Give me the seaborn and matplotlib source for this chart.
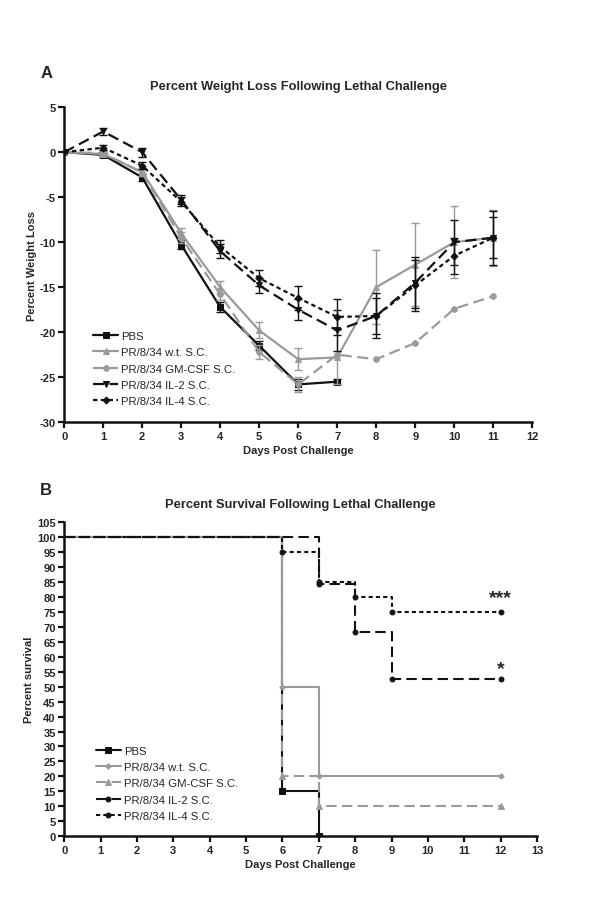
import numpy as np
import pandas as pd
import matplotlib
matplotlib.use("Agg")
import matplotlib.pyplot as plt
import seaborn as sns

# ---- Panel A: percent weight loss (mean, error) ----
days_a = list(range(0, 12))
days_pbs = list(range(0, 8))

pbs_wt = [0, -0.3, -2.8, -10.3, -17.2, -21.5, -25.8, -25.5]
pbs_err = [0, 0.2, 0.4, 0.5, 0.6, 0.5, 0.6, 0.3]

wt_wt = [0, -0.2, -2.2, -9.0, -15.0, -19.8, -23.0, -22.8, -15.0, -12.5, -10.0, -9.5]
wt_err = [0, 0.2, 0.4, 0.6, 0.7, 0.9, 1.2, 3.0, 4.1, 4.6, 4.0, 3.1]

gm_wt = [0, -0.1, -2.3, -9.5, -15.8, -22.2, -25.8, -22.5, -23.0, -21.2, -17.4, -16.0]
gm_err = [0, 0.2, 0.4, 0.6, 0.6, 0.8, 0.8, 0, 0, 0, 0, 0]

il2_wt = [0, 2.3, 0.0, -5.3, -11.0, -14.8, -17.5, -19.8, -18.2, -14.5, -10.0, -9.5]
il2_err = [0, 0.4, 0.5, 0.5, 0.8, 0.8, 1.2, 2.3, 2.0, 2.8, 2.5, 3.0]

il4_wt = [0, 0.5, -1.5, -5.5, -10.5, -14.0, -16.2, -18.3, -18.2, -14.8, -11.5, -9.5]
il4_err = [0, 0.3, 0.4, 0.5, 0.7, 0.9, 1.3, 2.0, 2.5, 2.8, 2.0, 2.3]

# ---- Panel B: percent survival (step points) ----
pbs_t = [0, 6, 7]
pbs_s = [100, 15, 0]
wt_t = [0, 6, 7, 12]
wt_s = [100, 50, 20, 20]
gm_t = [0, 6, 7, 12]
gm_s = [100, 20, 10, 10]
il2_t = [0, 7, 8, 9, 12]
il2_s = [100, 84.2, 68.4, 52.6, 52.6]
il4_t = [0, 6, 7, 8, 9, 12]
il4_s = [100, 95, 85, 80, 75, 75]

labels = ["PBS", "PR/8/34 w.t. S.C.", "PR/8/34 GM-CSF S.C.",
          "PR/8/34 IL-2 S.C.", "PR/8/34 IL-4 S.C."]

sns.set_style("ticks")
plt.rcParams['font.family'] = ['Liberation Sans', 'DejaVu Sans']
plt.rcParams['axes.unicode_minus'] = False

BLACK = "#111111"
GRAY = "#9a9a9a"
DASH = (0, (5, 2.5))
DOT = (0, (2, 1.5))

fig = plt.figure(figsize=(6, 9.2), dpi=100)
ax_a = fig.add_axes([0.107, 0.540, 0.78, 0.3424])
ax_b = fig.add_axes([0.107, 0.090, 0.788, 0.3413])

legend_kw = dict(loc="lower left", frameon=False, fontsize=8.2,
                 handlelength=2.2, labelspacing=0.55, borderpad=0.2,
                 handletextpad=0.25)

# panel A series
series_a = [
    (days_pbs, pbs_wt, pbs_err, BLACK, "-", "s", 4),
    (days_a, wt_wt, wt_err, GRAY, "-", "^", 4.5),
    (days_a, gm_wt, gm_err, GRAY, DASH, "o", 4),
    (days_a, il2_wt, il2_err, BLACK, DASH, "v", 4.5),
    (days_a, il4_wt, il4_err, BLACK, DOT, "D", 3.5),
]
for (x, y, e, c, ls, mk, ms), lab in zip(series_a, labels):
    df = pd.DataFrame({"day": x, "val": y, "err": e})
    sns.lineplot(data=df, x="day", y="val", ax=ax_a, color=c, linestyle=ls,
                 marker=mk, markersize=ms, markeredgecolor=c, linewidth=1.6,
                 label=lab, sort=False)
    m = df["err"] > 0
    ax_a.errorbar(df["day"][m], df["val"][m], yerr=df["err"][m], fmt="none",
                  ecolor=c, elinewidth=1.0, capsize=3, capthick=1.0)

ax_a.set_xlim(0, 12)
ax_a.set_ylim(-30, 5)
ax_a.set_xticks(range(0, 13))
ax_a.set_yticks(range(-30, 6, 5))
ax_a.set_xlabel("Days Post Challenge", fontsize=8, fontweight="bold", labelpad=3)
ax_a.set_ylabel("Percent Weight Loss", fontsize=8, fontweight="bold", labelpad=2)
ax_a.set_title("Percent Weight Loss Following Lethal Challenge",
               fontsize=9.3, fontweight="bold", pad=13)
ax_a.legend(bbox_to_anchor=(0.045, 0.026), **legend_kw)

# panel B series
series_b = [
    (pbs_t, pbs_s, BLACK, "-", "s", 4),
    (wt_t, wt_s, GRAY, "-", "P", 3.5),
    (gm_t, gm_s, GRAY, DASH, "^", 4.5),
    (il2_t, il2_s, BLACK, DASH, "o", 3.5),
    (il4_t, il4_s, BLACK, DOT, "o", 3.5),
]
for (x, y, c, ls, mk, ms), lab in zip(series_b, labels):
    df = pd.DataFrame({"day": x, "surv": y})
    sns.lineplot(data=df, x="day", y="surv", ax=ax_b, color=c, linestyle=ls,
                 marker=mk, markersize=ms, markeredgecolor=c, linewidth=1.5,
                 drawstyle="steps-post", markevery=list(range(1, len(x))),
                 label=lab, sort=False)

ax_b.text(12, il4_s[-1] + 2, "***", ha="center", va="bottom",
          fontsize=14, fontweight="bold")
ax_b.text(12, il2_s[-1] + 0.5, "*", ha="center", va="bottom",
          fontsize=14, fontweight="bold")

ax_b.set_xlim(0, 13)
ax_b.set_ylim(0, 105)
ax_b.set_xticks(range(0, 14))
ax_b.set_yticks(range(0, 106, 5))
ax_b.set_xlabel("Days Post Challenge", fontsize=8, fontweight="bold", labelpad=3)
ax_b.set_ylabel("Percent survival", fontsize=8, fontweight="bold", labelpad=2)
ax_b.set_title("Percent Survival Following Lethal Challenge",
               fontsize=9.3, fontweight="bold", pad=11)
ax_b.legend(bbox_to_anchor=(0.05, 0.023), **legend_kw)

for ax in (ax_a, ax_b):
    sns.despine(ax=ax)
    for sp in ("left", "bottom"):
        ax.spines[sp].set_linewidth(1.8)
        ax.spines[sp].set_color(BLACK)
    ax.tick_params(width=1.6, length=4, labelsize=8, color=BLACK, pad=2)
    for lbl in ax.get_xticklabels() + ax.get_yticklabels():
        lbl.set_fontweight("bold")

fig.text(0.067, 0.915, "A", fontsize=12, fontweight="bold")
fig.text(0.067, 0.462, "B", fontsize=12, fontweight="bold")

fig.savefig("out.png", dpi=100)
plt.close(fig)
